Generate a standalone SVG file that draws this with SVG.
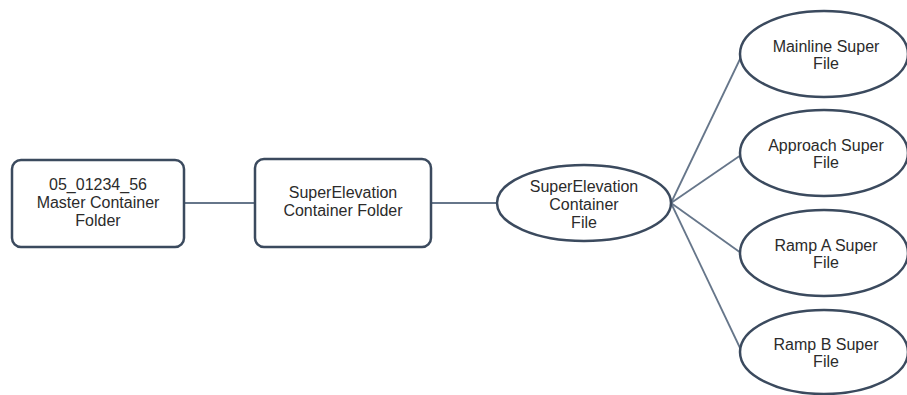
<svg xmlns="http://www.w3.org/2000/svg" width="907" height="395" viewBox="0 0 907 395">
<style>
.node{fill:#ffffff;stroke:#3b4a5e;stroke-width:2.5}
.conn{stroke:#66768a;stroke-width:1.8;fill:none}
text{font-family:"Liberation Sans",Arial,sans-serif;font-size:16px;fill:#2b2b2b;text-anchor:middle}
</style>
<rect width="907" height="395" fill="#ffffff"/>
<g id="connectors">
<line class="conn" x1="184" y1="203" x2="255" y2="203"/>
<line class="conn" x1="431" y1="203" x2="497" y2="203"/>
<line class="conn" x1="671" y1="203" x2="741" y2="57"/>
<line class="conn" x1="671" y1="203" x2="741" y2="155"/>
<line class="conn" x1="671" y1="203" x2="741" y2="253"/>
<line class="conn" x1="671" y1="203" x2="741" y2="350"/>
</g>
<g id="master">
<rect class="node" x="12" y="160" width="172" height="87" rx="9"/>
<text x="98" y="190">05_01234_56</text>
<text x="98" y="208">Master Container</text>
<text x="98" y="226">Folder</text>
</g>
<g id="se-folder">
<rect class="node" x="255" y="159" width="176" height="88" rx="9"/>
<text x="343" y="198">SuperElevation</text>
<text x="343" y="216">Container Folder</text>
</g>
<g id="se-file">
<ellipse class="node" cx="584" cy="203" rx="87" ry="38"/>
<text x="584" y="192">SuperElevation</text>
<text x="584" y="210">Container</text>
<text x="584" y="228">File</text>
</g>
<g id="mainline">
<ellipse class="node" cx="824" cy="54" rx="84" ry="43"/>
<text x="826" y="52">Mainline Super</text>
<text x="826" y="69">File</text>
</g>
<g id="approach">
<ellipse class="node" cx="824" cy="153" rx="84" ry="43"/>
<text x="826" y="151">Approach Super</text>
<text x="826" y="168">File</text>
</g>
<g id="rampa">
<ellipse class="node" cx="824" cy="253" rx="84" ry="43"/>
<text x="826" y="251">Ramp A Super</text>
<text x="826" y="268">File</text>
</g>
<g id="rampb">
<ellipse class="node" cx="824" cy="352" rx="84" ry="42"/>
<text x="826" y="350">Ramp B Super</text>
<text x="826" y="367">File</text>
</g>
</svg>
